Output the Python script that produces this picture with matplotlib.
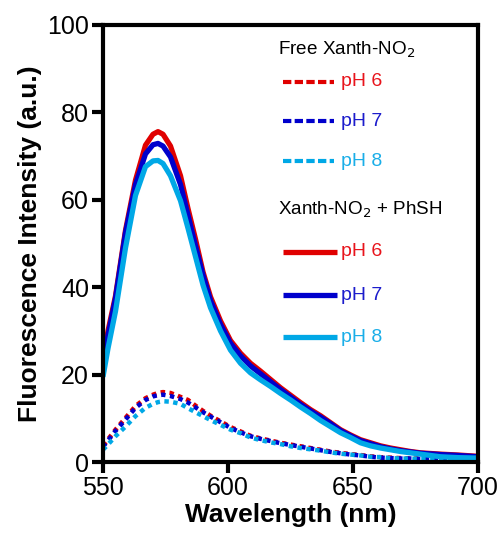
import matplotlib.pyplot as plt
from matplotlib.lines import Line2D

plt.rcParams['font.family'] = ['Liberation Sans', 'DejaVu Sans']

wavelength = [550, 552, 555, 559, 563, 567, 570, 572, 574, 577, 581, 584, 587,
              590, 593, 597, 601, 605, 609, 613, 617, 621, 625, 629, 633, 637,
              641, 645, 649, 653, 657, 661, 665, 669, 673, 677, 685, 692, 700]

# Xanth-NO2 + PhSH (solid)
thiol_ph6 = [23, 30, 38, 53, 64.5, 72.5, 75, 75.6, 75, 72.3, 65.5, 58, 51,
             43.5, 37.8, 32.3, 27.8, 24.9, 22.6, 20.8, 18.9, 17, 15.3, 13.6, 12, 10.6,
             9, 7.4, 6.2, 5.1, 4.4, 3.7, 3.2, 2.8, 2.4, 2.1, 1.8, 1.6, 1.3]
thiol_ph7 = [22, 29, 37.5, 52.5, 63.5, 70.5, 72.6, 72.9, 72.3, 69.8, 63.5, 56.5, 49.5,
             42.8, 37, 31.5, 27.2, 24.3, 22, 20.2, 18.4, 16.6, 14.9, 13.2, 11.7, 10.3,
             8.8, 7.2, 6, 4.9, 4.2, 3.5, 3, 2.6, 2.3, 2, 1.7, 1.5, 1.2]
thiol_ph8 = [19.5, 26, 34.5, 49, 61, 67.6, 68.9, 69, 68.3, 65.5, 59.8, 53.5, 47,
             40.5, 35.3, 30, 25.6, 22.6, 20.4, 18.8, 17.3, 15.7, 14.2, 12.6, 11.1, 9.5,
             8.1, 6.7, 5.6, 4.4, 3.7, 3.2, 2.8, 2.4, 2.1, 1.8, 1.2, 1.0, 0.9]

# free Xanth-NO2 (dotted)
free_ph6 = [3.8, 5.2, 7.4, 10.1, 12.8, 14.6, 15.4, 15.8, 16, 15.8, 14.9, 14.2, 12.9,
            11.7, 10.6, 9.3, 8.0, 7, 6, 5.4, 4.9, 4.4, 4, 3.6, 3.2, 2.8,
            2.4, 2.1, 1.8, 1.6, 1.3, 1.1, 1, 0.9, 0.8, 0.8, 0.7, 0.7, 0.7]
free_ph7 = [3.5, 4.9, 7.1, 9.7, 12.4, 14.2, 15, 15.3, 15.4, 15.1, 14.4, 13.6, 12.5,
            11.4, 10.4, 9.1, 7.8, 6.8, 5.9, 5.3, 4.8, 4.3, 3.9, 3.5, 3.1, 2.7,
            2.3, 2.0, 1.7, 1.5, 1.2, 1.0, 0.9, 0.8, 0.8, 0.7, 0.7, 0.6, 0.6]
free_ph8 = [2.8, 4, 5.9, 8.1, 10.5, 12.4, 13.3, 13.7, 13.9, 13.8, 13.3, 12.3, 11.4,
            10.5, 9.6, 8.5, 7.4, 6.6, 5.6, 5, 4.5, 4.1, 3.6, 3.2, 2.9, 2.6,
            2.2, 1.9, 1.7, 1.5, 1.2, 1.1, 0.9, 0.8, 0.8, 0.7, 0.7, 0.7, 0.7]

labels = ['pH 6', 'pH 7', 'pH 8']
line_colors = ['#e00000', '#0000cc', '#00a8e6']
text_colors = ['#e8141c', '#1c1ccc', '#1aaee8']

W, H = 503, 537
fig = plt.figure(figsize=(W / 100, H / 100), dpi=100)
ax = fig.add_axes([103 / W, 1 - 462 / H, 375 / W, 437 / H])

dot = (0, (1, 1))
for ys, c in zip([free_ph6, free_ph7, free_ph8], line_colors):
    ax.plot(wavelength, ys, color=c, lw=3.2, ls=dot, dash_capstyle='butt')
for ys, c in zip([thiol_ph6, thiol_ph7, thiol_ph8], line_colors):
    ax.plot(wavelength, ys, color=c, lw=3.8, solid_capstyle='butt')

ax.set_xlim(550, 700)
ax.set_ylim(0, 100)
ax.set_xticks([550, 600, 650, 700])
ax.set_yticks([0, 20, 40, 60, 80, 100])
for s in ax.spines.values():
    s.set_linewidth(3)
ax.tick_params(direction='out', length=8, width=3, labelsize=18, pad=2)
ax.set_xlabel('Wavelength (nm)', fontsize=19, fontweight='bold', labelpad=2)
ax.set_ylabel('Fluorescence Intensity (a.u.)', fontsize=19, fontweight='bold', labelpad=4)


def fx(px):
    return px / W


def fy(py):
    return 1 - py / H


# hand-made legend
fig.text(fx(278), fy(50), 'Free Xanth-NO$_2$', fontsize=13.6, va='center', ha='left')
fig.text(fx(278), fy(210), 'Xanth-NO$_2$ + PhSH', fontsize=13.6, va='center', ha='left')

dash_rows = [82, 121, 161]
solid_rows = [252, 295, 337]
for i in range(3):
    fig.add_artist(Line2D([fx(283), fx(334)], [fy(dash_rows[i])] * 2, color=line_colors[i],
                          lw=3, ls=(0, (2, 0.8)), dash_capstyle='butt'))
    fig.text(fx(341), fy(dash_rows[i]), labels[i], color=text_colors[i], fontsize=14,
             va='center', ha='left')
    fig.add_artist(Line2D([fx(283), fx(337)], [fy(solid_rows[i])] * 2, color=line_colors[i],
                          lw=3.8, solid_capstyle='butt'))
    fig.text(fx(341), fy(solid_rows[i]), labels[i], color=text_colors[i], fontsize=14,
             va='center', ha='left')

fig.savefig('out.png', dpi=100)
